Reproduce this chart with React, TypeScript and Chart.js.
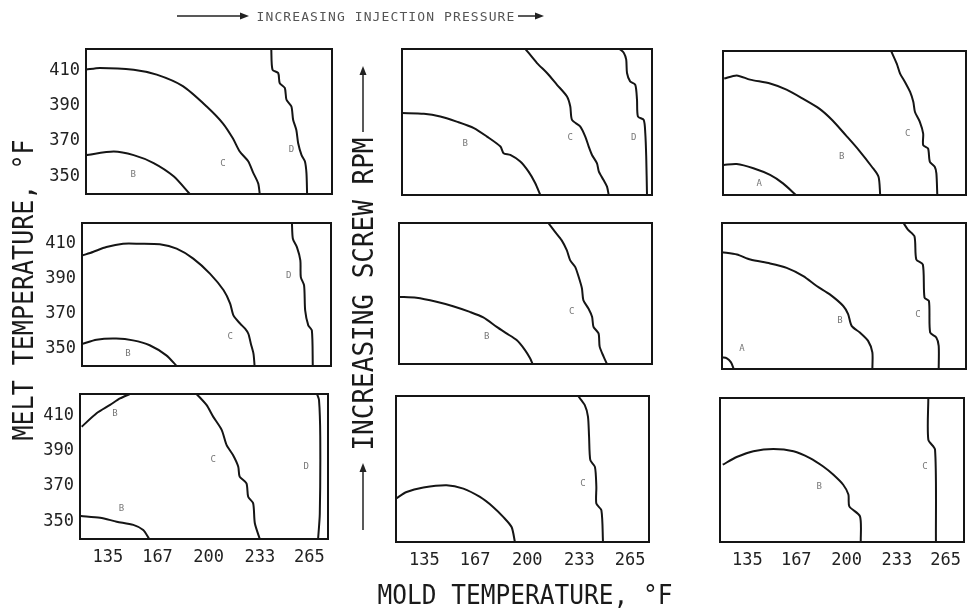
import React, { useEffect, useRef } from "react";
import { Chart, registerables } from "chart.js";

Chart.register(...registerables);

// ---- axis ticks / ranges ----
const moldTicks = [135, 167, 200, 233, 265];
const meltTicks = [350, 370, 390, 410];
const moldRange = [117, 277];
const meltRange = [340, 422];

type Pt = [number, number];
type Lbl = [number, number, string];

// ---- row 1 ----
const r1c1B: Pt[] = [[117, 362], [135, 364], [148, 362], [161, 357.5], [174, 350], [184.5, 340]];
const r1c1C: Pt[] = [[117, 410.3], [126, 411.3], [148, 410.3], [163, 407.5], [180, 401], [195.5, 389.5], [206, 380], [212.5, 371.5], [217, 364], [222.5, 358.5], [225.5, 352.5], [229, 346], [230, 340]];
const r1c1D: Pt[] = [[237.5, 422], [238.3, 410.3], [242, 408.4], [243, 402.7], [246.3, 400], [247.4, 393.3], [250.6, 389.5], [251.7, 382], [253.8, 376.2], [255, 368.7], [257.2, 362], [259.4, 358.4], [260.4, 351.7], [260.8, 340]];
const r1c1Labels: Lbl[] = [[147.7, 350.8, "B"], [206, 357, "C"], [250.6, 365, "D"]];

const r1c2B: Pt[] = [[117, 386], [131, 385.6], [141.5, 384.1], [152, 381.2], [163, 377.6], [171.4, 372.8], [180, 367.2], [182, 363.5], [186.3, 362.5], [192.7, 358.8], [198, 353.1], [202.3, 346.6], [205.5, 340]];
const r1c2C: Pt[] = [[196, 422], [203.4, 414.1], [209.8, 408.5], [216.2, 401.9], [222.6, 395.3], [224.7, 389.7], [225.8, 382.2], [231, 378.5], [234.3, 372.8], [236.5, 367.2], [238.6, 362.5], [241.8, 357.8], [243, 353.1], [246, 348.4], [248.2, 344.7], [249.3, 340]];
const r1c2D: Pt[] = [[256.3, 422], [259, 419.8], [260.5, 416], [261, 408.5], [263, 403.8], [266.3, 401.9], [267.4, 393.5], [268, 384.1], [271.7, 382.2], [272.7, 374.7], [273.3, 361.6], [273.8, 340]];
const r1c2Labels: Lbl[] = [[157.5, 369, "B"], [224.7, 372, "C"], [265.3, 372, "D"]];

const r1c3A: Pt[] = [[117.5, 357.1], [126, 357.6], [137, 355.2], [148, 351.4], [156.5, 346.6], [165, 340]];
const r1c3B: Pt[] = [[117.8, 406.3], [126, 408.1], [134.8, 405.7], [148, 403.5], [158.8, 400], [169.5, 394.9], [180.4, 389.2], [189, 382.6], [197.8, 374.1], [206.4, 365.6], [215, 356.1], [219.4, 350.4], [220.5, 340]];
const r1c3C: Pt[] = [[227.7, 422], [231.4, 414.8], [233.6, 409.1], [236.8, 404.4], [240.2, 398.7], [242.3, 393.1], [243.4, 387.3], [246.6, 381.7], [248.8, 375], [248.8, 368.4], [252, 366.5], [253.2, 358.9], [256.4, 356.1], [257.5, 352.3], [258.1, 340]];
const r1c3Labels: Lbl[] = [[140.8, 346.6, "A"], [195.1, 361.8, "B"], [238.6, 375, "C"]];

// ---- row 2 ----
const r2c1B: Pt[] = [[117.6, 352.8], [126.3, 355.1], [139, 355.7], [149.8, 354.7], [160.5, 351.9], [171.2, 346.1], [177.8, 340]];
const r2c1C: Pt[] = [[117.6, 403.5], [124, 405.4], [132.7, 408.2], [143.4, 410.1], [154, 410.1], [167, 409.8], [177.8, 407.3], [188.5, 401.6], [199.2, 393], [208, 383.4], [212.2, 375.8], [214.3, 369], [218.6, 364.3], [221.8, 361.4], [223.9, 358.5], [225.5, 352.8], [227.2, 347], [227.9, 340]];
const r2c1D: Pt[] = [[251.9, 422], [252.5, 413], [255.1, 408.2], [257.3, 400.6], [257.6, 391], [259.7, 386.2], [260.4, 371.9], [262.4, 363.3], [264.7, 360.4], [265.3, 340]];
const r2c1Labels: Lbl[] = [[146.6, 347, "B"], [212.2, 356.6, "C"], [249.8, 392, "D"]];

const r2c2B: Pt[] = [[117, 379], [128, 378.5], [140.7, 376.2], [151.2, 373.6], [161.8, 370.3], [170.3, 367.1], [178.8, 361.6], [185, 357.8], [191.4, 353.9], [196.7, 348.1], [199.9, 343.3], [201.5, 340]];
const r2c2C: Pt[] = [[211.4, 422], [215.7, 416.8], [219.9, 411.9], [223.1, 406.2], [225.2, 400.4], [228.4, 396.5], [230.6, 390.7], [232.7, 383.9], [233.6, 377.1], [236.8, 372.3], [239.1, 367.5], [240, 361.6], [243.2, 357.8], [243.9, 350.1], [246.4, 344.3], [248.5, 340]];
const r2c2Labels: Lbl[] = [[172.4, 355.8, "B"], [226.3, 370.3, "C"]];

const r2c3A: Pt[] = [[117, 346.5], [120.2, 346], [122.9, 343.7], [124.7, 340]];
const r2c3B: Pt[] = [[117, 405.6], [126.8, 404.3], [135.6, 401.5], [148.5, 399.3], [159.4, 396.8], [170.3, 392.2], [179.1, 386.6], [187.7, 381.9], [196.5, 375.4], [199.7, 370.8], [202, 364.2], [207.4, 360.5], [212.8, 355.8], [215.6, 349.3], [215.6, 340]];
const r2c3C: Pt[] = [[236, 422], [238.9, 418.3], [243.2, 414.5], [244.4, 401.5], [248.7, 398.7], [249.8, 380.1], [252.7, 378.2], [253.5, 360.5], [257.5, 357.7], [259.1, 353], [259.1, 340]];
const r2c3Labels: Lbl[] = [[130.1, 351.2, "A"], [194.3, 367, "B"], [245.5, 370.8, "C"]];

// ---- row 3 ----
const r3c1Btop: Pt[] = [[118.1, 403.5], [127.7, 411.1], [136.4, 415.8], [142.8, 419.5], [149.2, 422]];
const r3c1B: Pt[] = [[117.6, 353], [130, 352], [140.7, 349.8], [151.4, 348], [157.8, 345.1], [161.6, 340]];
const r3c1C: Pt[] = [[192.2, 422], [198.6, 415.8], [202.9, 409.2], [208.4, 401.7], [211.6, 393.1], [215.7, 387.5], [219.1, 380.9], [220, 375.3], [224.4, 371.5], [225.5, 363.9], [228.7, 360.2], [229.8, 348.9], [233, 340]];
const r3c1D: Pt[] = [[269.9, 422], [271.2, 418.6], [272, 397.9], [271.7, 354.1], [270.6, 340]];
const r3c1Labels: Lbl[] = [[139.6, 411.1, "B"], [143.8, 357.3, "B"], [202.9, 384.7, "C"], [263, 380.9, "D"]];

const r3c2B: Pt[] = [[117, 364.4], [123.7, 368.1], [134.3, 370.6], [149, 371.9], [159.6, 370], [170.1, 365.3], [178.4, 359.7], [184.8, 354.1], [190.1, 348.4], [192.2, 340]];
const r3c2C: Pt[] = [[232.2, 422], [236.4, 416.9], [238.4, 410.4], [239.1, 399.1], [239.9, 386], [242.8, 382.2], [243.7, 371], [243.7, 361.6], [246.9, 357.8], [247.9, 340]];
const r3c2Labels: Lbl[] = [[235.2, 372.8, "C"]];

const r3c3B: Pt[] = [[118.8, 384], [127.9, 388.4], [138.9, 391.7], [152, 393], [165.2, 391.7], [176, 387.8], [184.7, 383], [191.2, 378.4], [197.8, 372.6], [201.2, 367], [201.8, 360.3], [208.8, 354.6], [209.3, 340]];
const r3c3C: Pt[] = [[253.6, 422], [253.6, 398.3], [258, 392.6], [258.6, 340]];
const r3c3Labels: Lbl[] = [[182.1, 371.7, "B"], [251.4, 383, "C"]];

const panelCurves: Pt[][][] = [
  [r1c1B, r1c1C, r1c1D], [r1c2B, r1c2C, r1c2D], [r1c3A, r1c3B, r1c3C],
  [r2c1B, r2c1C, r2c1D], [r2c2B, r2c2C], [r2c3A, r2c3B, r2c3C],
  [r3c1Btop, r3c1B, r3c1C, r3c1D], [r3c2B, r3c2C], [r3c3B, r3c3C],
];
const panelLabels: Lbl[][] = [
  r1c1Labels, r1c2Labels, r1c3Labels,
  r2c1Labels, r2c2Labels, r2c3Labels,
  r3c1Labels, r3c2Labels, r3c3Labels,
];

// ---- layout (plot-area boxes in page pixels) ----
const boxes = [
  { L: 86, T: 49, R: 332, B: 194 }, { L: 402, T: 49, R: 652, B: 195 }, { L: 723, T: 51, R: 966, B: 195 },
  { L: 82, T: 223, R: 331, B: 366 }, { L: 399, T: 223, R: 652, B: 364 }, { L: 722, T: 223, R: 966, B: 369 },
  { L: 80, T: 394, R: 328, B: 539 }, { L: 396, T: 396, R: 649, B: 542 }, { L: 720, T: 398, R: 964, B: 542 },
];

const MONO = "'DejaVu Sans Mono', 'Liberation Mono', monospace";
const INK = "#151515";

function Panel({ idx }: { idx: number }) {
  const ref = useRef<HTMLCanvasElement>(null);
  const row = Math.floor(idx / 3);
  const col = idx % 3;
  const box = boxes[idx];
  const yW = col === 0 ? 40 : 0;
  const xH = row === 2 ? 30 : 0;
  const padL = 20 + yW;
  const padB = 10 + xH;
  const padT = 20;
  const padR = 20;
  const w = box.R - box.L + padL + padR;
  const h = box.B - box.T + padT + padB;

  useEffect(() => {
    if (!ref.current) return;
    const labels = panelLabels[idx];
    const frame = {
      id: "frame" + idx,
      afterDatasetsDraw(chart: any) {
        const { ctx, chartArea, scales } = chart;
        ctx.save();
        ctx.strokeStyle = INK;
        ctx.lineWidth = 2;
        ctx.strokeRect(chartArea.left, chartArea.top, chartArea.right - chartArea.left, chartArea.bottom - chartArea.top);
        ctx.fillStyle = "#777";
        ctx.font = "9px " + MONO;
        ctx.textAlign = "center";
        ctx.textBaseline = "middle";
        labels.forEach(([x, y, t]) => {
          ctx.fillText(t, scales.x.getPixelForValue(x), scales.y.getPixelForValue(y));
        });
        ctx.restore();
      },
    };
    const chart = new Chart(ref.current, {
      type: "scatter",
      data: {
        datasets: panelCurves[idx].map((c) => ({
          data: c.map(([x, y]) => ({ x, y })),
          showLine: true,
          borderColor: INK,
          borderWidth: 2,
          pointRadius: 0,
          pointHoverRadius: 0,
          tension: 0.25,
          fill: false,
        })),
      },
      options: {
        responsive: false,
        animation: false,
        events: [],
        layout: { padding: { left: 20, right: padR, top: padT, bottom: 10 } },
        plugins: { legend: { display: false }, tooltip: { enabled: false } },
        scales: {
          x: {
            type: "linear",
            min: moldRange[0],
            max: moldRange[1],
            display: row === 2,
            grid: { display: false, drawTicks: false },
            border: { display: false },
            ticks: {
              autoSkip: false,
              maxRotation: 0,
              padding: 8,
              color: "#222",
              font: { family: MONO, size: 17 },
            },
            afterBuildTicks: (a: any) => {
              a.ticks = moldTicks.map((v) => ({ value: v }));
            },
            afterFit: (s: any) => {
              s.height = xH;
              s.paddingLeft = 0;
              s.paddingRight = 0;
            },
          },
          y: {
            type: "linear",
            min: meltRange[0],
            max: meltRange[1],
            display: col === 0,
            grid: { display: false, drawTicks: false },
            border: { display: false },
            ticks: {
              autoSkip: false,
              padding: 6,
              color: "#222",
              font: { family: MONO, size: 17 },
            },
            afterBuildTicks: (a: any) => {
              a.ticks = meltTicks.map((v) => ({ value: v }));
            },
            afterFit: (s: any) => {
              s.width = yW;
              s.paddingTop = 0;
              s.paddingBottom = 0;
            },
          },
        },
      },
      plugins: [frame],
    } as any);
    return () => chart.destroy();
  }, [idx]);

  return (
    <canvas
      ref={ref}
      width={w}
      height={h}
      style={{ position: "absolute", left: box.L - padL, top: box.T - padT, width: w, height: h }}
    />
  );
}

const titleStyle: React.CSSProperties = {
  position: "absolute",
  fontFamily: MONO,
  color: "#1a1a1a",
  whiteSpace: "nowrap",
  lineHeight: 1,
};

export default function App() {
  return (
    <div
      style={{
        position: "fixed",
        left: 0,
        top: 0,
        width: 969,
        height: 616,
        background: "#fff",
        overflow: "hidden",
      }}
    >
      {boxes.map((_, i) => (
        <Panel key={i} idx={i} />
      ))}
      <svg width={969} height={616} style={{ position: "absolute", left: 0, top: 0, pointerEvents: "none" }}>
        <g stroke="#222" strokeWidth={1.5} fill="#222">
          <line x1={177} y1={16} x2={243} y2={16} />
          <polygon points="249,16 240,12.5 240,19.5" stroke="none" />
          <line x1={518} y1={16} x2={538} y2={16} />
          <polygon points="544,16 535,12.5 535,19.5" stroke="none" />
          <line x1={363} y1={132} x2={363} y2={72} />
          <polygon points="363,66 359.5,75 366.5,75" stroke="none" />
          <line x1={363} y1={530} x2={363} y2={469} />
          <polygon points="363,463 359.5,472 366.5,472" stroke="none" />
        </g>
      </svg>
      <div
        style={{
          ...titleStyle,
          left: 386,
          top: 16,
          fontSize: 13,
          letterSpacing: 1.1,
          color: "#555",
          transform: "translate(-50%, -50%)",
        }}
      >
        INCREASING INJECTION PRESSURE
      </div>
      <div
        style={{
          ...titleStyle,
          left: 525,
          top: 595,
          fontSize: 24.5,
          transform: "translate(-50%, -50%) scaleY(1.1)",
        }}
      >
        MOLD TEMPERATURE, °F
      </div>
      <div
        style={{
          ...titleStyle,
          left: 24,
          top: 290,
          fontSize: 25,
          transform: "translate(-50%, -50%) rotate(-90deg) scaleY(1.1)",
        }}
      >
        MELT TEMPERATURE, °F
      </div>
      <div
        style={{
          ...titleStyle,
          left: 363,
          top: 294,
          fontSize: 26,
          transform: "translate(-50%, -50%) rotate(-90deg) scaleY(1.1)",
        }}
      >
        INCREASING SCREW RPM
      </div>
    </div>
  );
}
